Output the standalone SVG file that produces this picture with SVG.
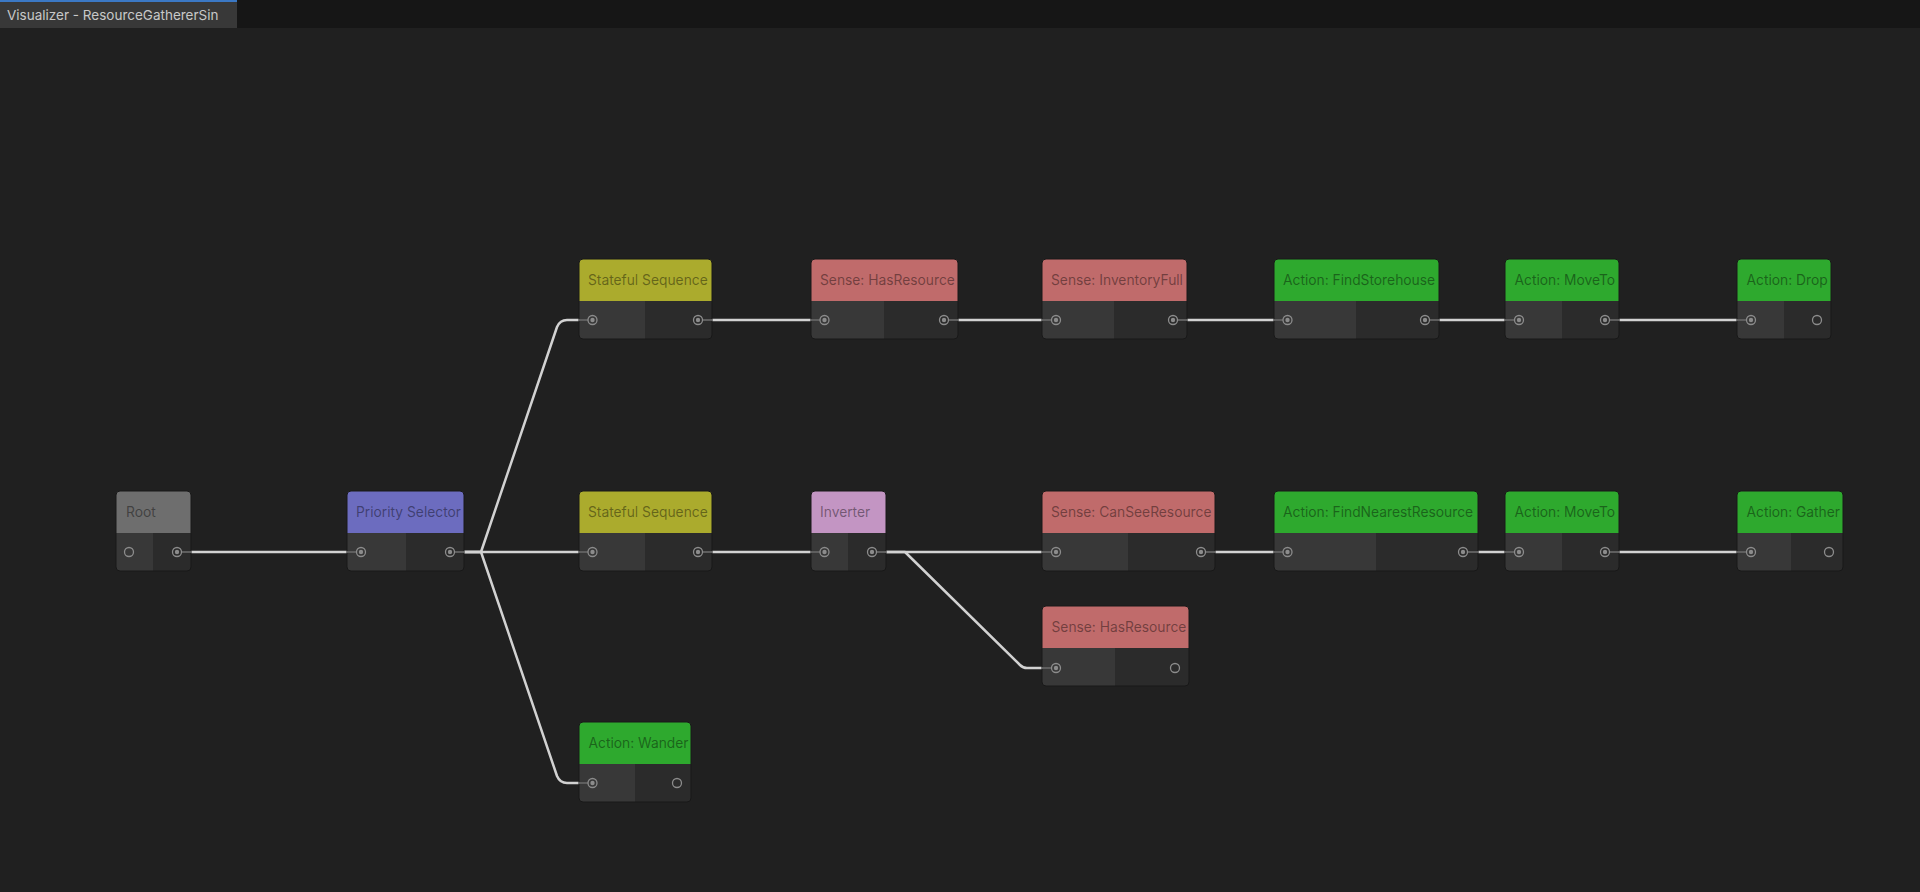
<svg xmlns="http://www.w3.org/2000/svg" width="1920" height="892" viewBox="0 0 1920 892">
<style>
.hdr-text{font-family:Inter,"Noto Sans","Liberation Sans",sans-serif;font-size:13.8px;fill:#000;fill-opacity:0.42}
.tab-text{font-family:Inter,"Noto Sans","Liberation Sans",sans-serif;font-size:13.5px;fill:#c8c8c8}
.bodyR{fill:#2b2b2b}
.bodyL{fill:#383838}
.outline{fill:none;stroke:#181818;stroke-width:1}
.ring{fill:none;stroke:#8c8c8c;stroke-width:1.3}
.dot{fill:#8c8c8c}
.stub{stroke:#5e5e5e;stroke-width:2}
.wire{fill:none;stroke:#d2d2d2;stroke-width:2.5;stroke-linejoin:round}
.gray{fill:#6e6e6e}.purple{fill:#6c6cbf}.olive{fill:#abab2d}.red{fill:#c06b6b}.green{fill:#2ea92e}.lilac{fill:#c395c3}
</style>
<defs>
<clipPath id="tabclip"><rect x="0" y="0" width="223" height="28"/></clipPath>
</defs>
<rect width="1920" height="892" fill="#202020"/>
<rect width="1920" height="28" fill="#161616"/>
<rect x="0" y="1" width="237" height="27" fill="#383838"/>
<rect x="0" y="0" width="237" height="2" fill="#3b78c4"/>
<text class="tab-text" x="7" y="20" clip-path="url(#tabclip)">Visualizer - ResourceGathererSin</text>

<g id="connectors">
<path class="wire" d="M191 552 H347"/>
<path class="wire" d="M464 552 H481 L557 327 Q560 320 567 320 H579"/>
<path class="wire" d="M464 552 H579"/>
<path class="wire" d="M464 552 H481 L557 776 Q560 783 567 783 H579"/>
<path class="wire" d="M712 320 H811"/>
<path class="wire" d="M958 320 H1042"/>
<path class="wire" d="M1187 320 H1274"/>
<path class="wire" d="M1439 320 H1505"/>
<path class="wire" d="M1619 320 H1737"/>
<path class="wire" d="M712 552 H811"/>
<path class="wire" d="M886 552 H1042"/>
<path class="wire" d="M886 552 H905 L1020 665 Q1023 668 1027 668 H1042"/>
<path class="wire" d="M1215 552 H1274"/>
<path class="wire" d="M1478 552 H1505"/>
<path class="wire" d="M1619 552 H1737"/>
</g>

<g id="root" transform="translate(116,491)">
<rect class="bodyR" width="75" height="80" rx="4"/>
<path class="bodyL" d="M0 42 H37 V80 H4 Q0 80 0 76 Z"/>
<path class="gray" d="M0 42 V4 Q0 0 4 0 H71 Q75 0 75 4 V42 Z"/>
<rect class="outline" width="75" height="80" rx="4"/>
<text class="hdr-text" x="10" y="26">Root</text>
<circle class="ring" cx="13" cy="61" r="4.5"/>
<line class="stub" x1="65.5" y1="61" x2="75" y2="61"/>
<circle class="ring" cx="61" cy="61" r="4.5"/><circle class="dot" cx="61" cy="61" r="2.2"/>
</g>

<g id="priority-selector" transform="translate(347,491)">
<rect class="bodyR" width="117" height="80" rx="4"/>
<path class="bodyL" d="M0 42 H59 V80 H4 Q0 80 0 76 Z"/>
<path class="purple" d="M0 42 V4 Q0 0 4 0 H113 Q117 0 117 4 V42 Z"/>
<rect class="outline" width="117" height="80" rx="4"/>
<text class="hdr-text" x="9" y="26">Priority Selector</text>
<line class="stub" x1="0" y1="61" x2="9.5" y2="61"/>
<circle class="ring" cx="14" cy="61" r="4.5"/><circle class="dot" cx="14" cy="61" r="2.2"/>
<line class="stub" x1="107.5" y1="61" x2="117" y2="61"/>
<circle class="ring" cx="103" cy="61" r="4.5"/><circle class="dot" cx="103" cy="61" r="2.2"/>
</g>

<g id="stateful-sequence-1" transform="translate(579,259)">
<rect class="bodyR" width="133" height="80" rx="4"/>
<path class="bodyL" d="M0 42 H66 V80 H4 Q0 80 0 76 Z"/>
<path class="olive" d="M0 42 V4 Q0 0 4 0 H129 Q133 0 133 4 V42 Z"/>
<rect class="outline" width="133" height="80" rx="4"/>
<text class="hdr-text" x="9" y="26">Stateful Sequence</text>
<line class="stub" x1="0" y1="61" x2="9" y2="61"/>
<circle class="ring" cx="13.5" cy="61" r="4.5"/><circle class="dot" cx="13.5" cy="61" r="2.2"/>
<line class="stub" x1="123.5" y1="61" x2="133" y2="61"/>
<circle class="ring" cx="119" cy="61" r="4.5"/><circle class="dot" cx="119" cy="61" r="2.2"/>
</g>

<g id="sense-hasresource-1" transform="translate(811,259)">
<rect class="bodyR" width="147" height="80" rx="4"/>
<path class="bodyL" d="M0 42 H73 V80 H4 Q0 80 0 76 Z"/>
<path class="red" d="M0 42 V4 Q0 0 4 0 H143 Q147 0 147 4 V42 Z"/>
<rect class="outline" width="147" height="80" rx="4"/>
<text class="hdr-text" x="9" y="26">Sense: HasResource</text>
<line class="stub" x1="0" y1="61" x2="9" y2="61"/>
<circle class="ring" cx="13.5" cy="61" r="4.5"/><circle class="dot" cx="13.5" cy="61" r="2.2"/>
<line class="stub" x1="137.5" y1="61" x2="147" y2="61"/>
<circle class="ring" cx="133" cy="61" r="4.5"/><circle class="dot" cx="133" cy="61" r="2.2"/>
</g>

<g id="sense-inventoryfull" transform="translate(1042,259)">
<rect class="bodyR" width="145" height="80" rx="4"/>
<path class="bodyL" d="M0 42 H72 V80 H4 Q0 80 0 76 Z"/>
<path class="red" d="M0 42 V4 Q0 0 4 0 H141 Q145 0 145 4 V42 Z"/>
<rect class="outline" width="145" height="80" rx="4"/>
<text class="hdr-text" x="9" y="26">Sense: InventoryFull</text>
<line class="stub" x1="0" y1="61" x2="9.5" y2="61"/>
<circle class="ring" cx="14" cy="61" r="4.5"/><circle class="dot" cx="14" cy="61" r="2.2"/>
<line class="stub" x1="135.5" y1="61" x2="145" y2="61"/>
<circle class="ring" cx="131" cy="61" r="4.5"/><circle class="dot" cx="131" cy="61" r="2.2"/>
</g>

<g id="action-findstorehouse" transform="translate(1274,259)">
<rect class="bodyR" width="165" height="80" rx="4"/>
<path class="bodyL" d="M0 42 H82 V80 H4 Q0 80 0 76 Z"/>
<path class="green" d="M0 42 V4 Q0 0 4 0 H161 Q165 0 165 4 V42 Z"/>
<rect class="outline" width="165" height="80" rx="4"/>
<text class="hdr-text" x="9" y="26">Action: FindStorehouse</text>
<line class="stub" x1="0" y1="61" x2="9" y2="61"/>
<circle class="ring" cx="13.5" cy="61" r="4.5"/><circle class="dot" cx="13.5" cy="61" r="2.2"/>
<line class="stub" x1="155.5" y1="61" x2="165" y2="61"/>
<circle class="ring" cx="151" cy="61" r="4.5"/><circle class="dot" cx="151" cy="61" r="2.2"/>
</g>

<g id="action-moveto-1" transform="translate(1505,259)">
<rect class="bodyR" width="114" height="80" rx="4"/>
<path class="bodyL" d="M0 42 H57 V80 H4 Q0 80 0 76 Z"/>
<path class="green" d="M0 42 V4 Q0 0 4 0 H110 Q114 0 114 4 V42 Z"/>
<rect class="outline" width="114" height="80" rx="4"/>
<text class="hdr-text" x="9.5" y="26">Action: MoveTo</text>
<line class="stub" x1="0" y1="61" x2="9.5" y2="61"/>
<circle class="ring" cx="14" cy="61" r="4.5"/><circle class="dot" cx="14" cy="61" r="2.2"/>
<line class="stub" x1="104.5" y1="61" x2="114" y2="61"/>
<circle class="ring" cx="100" cy="61" r="4.5"/><circle class="dot" cx="100" cy="61" r="2.2"/>
</g>

<g id="action-drop" transform="translate(1737,259)">
<rect class="bodyR" width="94" height="80" rx="4"/>
<path class="bodyL" d="M0 42 H47 V80 H4 Q0 80 0 76 Z"/>
<path class="green" d="M0 42 V4 Q0 0 4 0 H90 Q94 0 94 4 V42 Z"/>
<rect class="outline" width="94" height="80" rx="4"/>
<text class="hdr-text" x="9.5" y="26">Action: Drop</text>
<line class="stub" x1="0" y1="61" x2="9.5" y2="61"/>
<circle class="ring" cx="14" cy="61" r="4.5"/><circle class="dot" cx="14" cy="61" r="2.2"/>
<circle class="ring" cx="80" cy="61" r="4.5"/>
</g>

<g id="stateful-sequence-2" transform="translate(579,491)">
<rect class="bodyR" width="133" height="80" rx="4"/>
<path class="bodyL" d="M0 42 H66 V80 H4 Q0 80 0 76 Z"/>
<path class="olive" d="M0 42 V4 Q0 0 4 0 H129 Q133 0 133 4 V42 Z"/>
<rect class="outline" width="133" height="80" rx="4"/>
<text class="hdr-text" x="9" y="26">Stateful Sequence</text>
<line class="stub" x1="0" y1="61" x2="9" y2="61"/>
<circle class="ring" cx="13.5" cy="61" r="4.5"/><circle class="dot" cx="13.5" cy="61" r="2.2"/>
<line class="stub" x1="123.5" y1="61" x2="133" y2="61"/>
<circle class="ring" cx="119" cy="61" r="4.5"/><circle class="dot" cx="119" cy="61" r="2.2"/>
</g>

<g id="inverter" transform="translate(811,491)">
<rect class="bodyR" width="75" height="80" rx="4"/>
<path class="bodyL" d="M0 42 H37 V80 H4 Q0 80 0 76 Z"/>
<path class="lilac" d="M0 42 V4 Q0 0 4 0 H71 Q75 0 75 4 V42 Z"/>
<rect class="outline" width="75" height="80" rx="4"/>
<text class="hdr-text" x="9" y="26">Inverter</text>
<line class="stub" x1="0" y1="61" x2="9" y2="61"/>
<circle class="ring" cx="13.5" cy="61" r="4.5"/><circle class="dot" cx="13.5" cy="61" r="2.2"/>
<line class="stub" x1="65.5" y1="61" x2="75" y2="61"/>
<circle class="ring" cx="61" cy="61" r="4.5"/><circle class="dot" cx="61" cy="61" r="2.2"/>
</g>

<g id="sense-canseeresource" transform="translate(1042,491)">
<rect class="bodyR" width="173" height="80" rx="4"/>
<path class="bodyL" d="M0 42 H86 V80 H4 Q0 80 0 76 Z"/>
<path class="red" d="M0 42 V4 Q0 0 4 0 H169 Q173 0 173 4 V42 Z"/>
<rect class="outline" width="173" height="80" rx="4"/>
<text class="hdr-text" x="9" y="26">Sense: CanSeeResource</text>
<line class="stub" x1="0" y1="61" x2="9.5" y2="61"/>
<circle class="ring" cx="14" cy="61" r="4.5"/><circle class="dot" cx="14" cy="61" r="2.2"/>
<line class="stub" x1="163.5" y1="61" x2="173" y2="61"/>
<circle class="ring" cx="159" cy="61" r="4.5"/><circle class="dot" cx="159" cy="61" r="2.2"/>
</g>

<g id="action-findnearestresource" transform="translate(1274,491)">
<rect class="bodyR" width="204" height="80" rx="4"/>
<path class="bodyL" d="M0 42 H102 V80 H4 Q0 80 0 76 Z"/>
<path class="green" d="M0 42 V4 Q0 0 4 0 H200 Q204 0 204 4 V42 Z"/>
<rect class="outline" width="204" height="80" rx="4"/>
<text class="hdr-text" x="9" y="26">Action: FindNearestResource</text>
<line class="stub" x1="0" y1="61" x2="9" y2="61"/>
<circle class="ring" cx="13.5" cy="61" r="4.5"/><circle class="dot" cx="13.5" cy="61" r="2.2"/>
<line class="stub" x1="193.5" y1="61" x2="204" y2="61"/>
<circle class="ring" cx="189" cy="61" r="4.5"/><circle class="dot" cx="189" cy="61" r="2.2"/>
</g>

<g id="action-moveto-2" transform="translate(1505,491)">
<rect class="bodyR" width="114" height="80" rx="4"/>
<path class="bodyL" d="M0 42 H57 V80 H4 Q0 80 0 76 Z"/>
<path class="green" d="M0 42 V4 Q0 0 4 0 H110 Q114 0 114 4 V42 Z"/>
<rect class="outline" width="114" height="80" rx="4"/>
<text class="hdr-text" x="9.5" y="26">Action: MoveTo</text>
<line class="stub" x1="0" y1="61" x2="9.5" y2="61"/>
<circle class="ring" cx="14" cy="61" r="4.5"/><circle class="dot" cx="14" cy="61" r="2.2"/>
<line class="stub" x1="104.5" y1="61" x2="114" y2="61"/>
<circle class="ring" cx="100" cy="61" r="4.5"/><circle class="dot" cx="100" cy="61" r="2.2"/>
</g>

<g id="action-gather" transform="translate(1737,491)">
<rect class="bodyR" width="106" height="80" rx="4"/>
<path class="bodyL" d="M0 42 H54 V80 H4 Q0 80 0 76 Z"/>
<path class="green" d="M0 42 V4 Q0 0 4 0 H102 Q106 0 106 4 V42 Z"/>
<rect class="outline" width="106" height="80" rx="4"/>
<text class="hdr-text" x="9.5" y="26">Action: Gather</text>
<line class="stub" x1="0" y1="61" x2="9.5" y2="61"/>
<circle class="ring" cx="14" cy="61" r="4.5"/><circle class="dot" cx="14" cy="61" r="2.2"/>
<circle class="ring" cx="92" cy="61" r="4.5"/>
</g>

<g id="sense-hasresource-2" transform="translate(1042,606)">
<rect class="bodyR" width="147" height="80" rx="4"/>
<path class="bodyL" d="M0 42 H73 V80 H4 Q0 80 0 76 Z"/>
<path class="red" d="M0 42 V4 Q0 0 4 0 H143 Q147 0 147 4 V42 Z"/>
<rect class="outline" width="147" height="80" rx="4"/>
<text class="hdr-text" x="9.5" y="26">Sense: HasResource</text>
<line class="stub" x1="0" y1="62" x2="9.5" y2="62"/>
<circle class="ring" cx="14" cy="62" r="4.5"/><circle class="dot" cx="14" cy="62" r="2.2"/>
<circle class="ring" cx="133" cy="62" r="4.5"/>
</g>

<g id="action-wander" transform="translate(579,722)">
<rect class="bodyR" width="112" height="80" rx="4"/>
<path class="bodyL" d="M0 42 H56 V80 H4 Q0 80 0 76 Z"/>
<path class="green" d="M0 42 V4 Q0 0 4 0 H108 Q112 0 112 4 V42 Z"/>
<rect class="outline" width="112" height="80" rx="4"/>
<text class="hdr-text" x="9.5" y="26">Action: Wander</text>
<line class="stub" x1="0" y1="61" x2="9" y2="61"/>
<circle class="ring" cx="13.5" cy="61" r="4.5"/><circle class="dot" cx="13.5" cy="61" r="2.2"/>
<circle class="ring" cx="98" cy="61" r="4.5"/>
</g>
</svg>
